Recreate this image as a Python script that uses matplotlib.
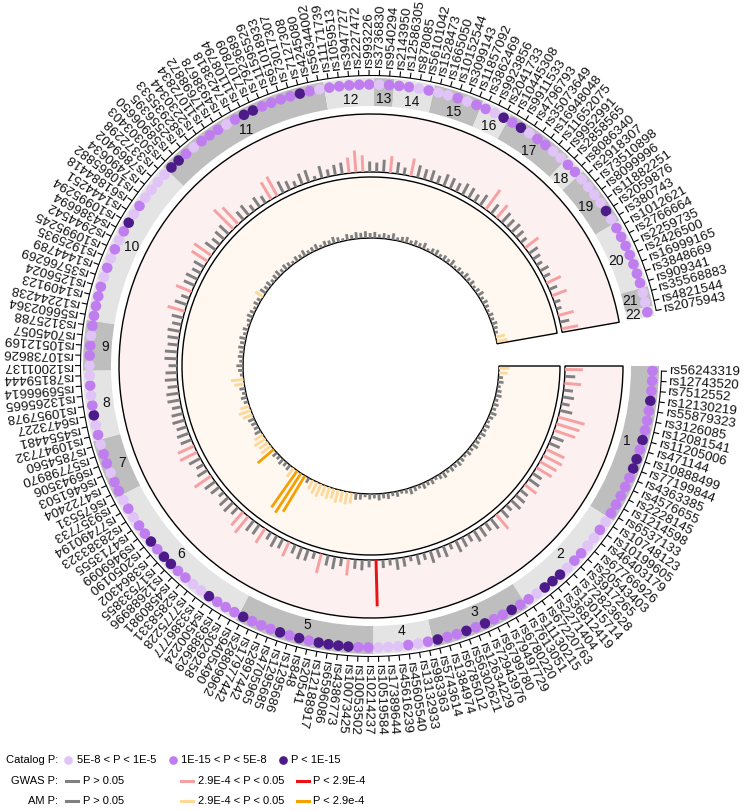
import numpy as np
import matplotlib
matplotlib.use("Agg")
import matplotlib.pyplot as plt
from matplotlib.lines import Line2D

plt.rcParams['font.family'] = ['Liberation Sans', 'DejaVu Sans']

# ---------------- data ----------------
chrom_names = [str(i) for i in range(1, 23)]
chrom_counts = [16, 12, 10, 6, 14, 17, 6, 7, 5, 17, 18, 5, 2, 4, 5, 3, 7, 2, 6, 7, 2, 1]

snp_labels = [
    # chr1
    "rs56243319", "rs12743520", "rs7512552", "rs12130219", "rs55879323", "rs3126085",
    "rs12081541", "rs11205006", "rs471144", "rs10888499", "rs77199844", "rs4363385",
    "rs4576655", "rs2228145", "rs1214598", "rs6537133",
    # chr2
    "rs10748123", "rs10199605", "rs46403179", "rs67766926", "rs20543403", "rs3917265",
    "rs72823628", "rs13015714", "rs36812419", "rs2271404", "rs67220763", "rs11130215",
    # chr3
    "rs7613051", "rs6780220", "rs79497729", "rs6799780", "rs72943976", "rs12634229",
    "rs56302621", "rs6785012", "rs1384974", "rs5743614",
    # chr4
    "rs983363", "rs13132933", "rs45605540", "rs45616239", "rs17389644", "rs10519584",
    # chr5
    "rs10214237", "rs10053502", "rs10073425", "rs4386773", "rs6596086", "rs12188917",
    "rs20541", "rs848", "rs1295686", "rs1295685", "rs4705965", "rs2897442",
    "rs17977442", "rs28809962",
    # chr6
    "rs9405490", "rs3029258", "rs9388629", "rs4500224", "rs3386777", "rs7775228",
    "rs2858331", "rs4580981", "rs12688996", "rs17533855", "rs3864302", "rs2050190",
    "rs9469099", "rs4713555", "rs28383323", "rs77490194", "rs9357733",
    # chr7
    "rs675531", "rs4722404", "rs6461503", "rs6943506", "rs57798970", "rs7854560",
    # chr8
    "rs10947732", "rs4554481", "rs6473227", "rs10957978", "rs13265665", "rs56966614",
    "rs78159444",
    # chr9
    "rs12001137", "rs10738626", "rs10512169", "rs7045057", "rs3125788",
    # chr10
    "rs56602364", "rs12244238", "rs1409123", "rs1256024", "rs35766269", "rs1444789",
    "rs1925935", "rs10995245", "rs2944542", "rs4386694", "rs10995294", "rs1444251",
    "rs61884418", "rs10865882", "rs7490634", "rs7869402", "rs3372298",
    # chr11
    "rs50303403", "rs58906650", "rs2556395", "rs82935533", "rs2230344", "rs11072834",
    "rs17698872", "rs4938678", "rs7423818", "rs11108794", "rs7107809", "rs7923689",
    "rs11595529", "rs61018933", "rs73017307", "rs7127308", "rs4245080", "rs56344002",
    # chr12
    "rs11171739", "rs1059513", "rs3947727", "rs2227472", "rs993226",
    # chr13
    "rs3736830", "rs9540294",
    # chr14
    "rs2143950", "rs12586305", "rs878085", "rs56101042",
    # chr15
    "rs1528473", "rs1665050", "rs10152544", "rs3099143", "rs11857092",
    # chr16
    "rs3862469", "rs9923856", "rs2041733",
    # chr17
    "rs10445308", "rs9911533", "rs4796793", "rs35073649", "rs16948048", "rs11652075",
    "rs9952991",
    # chr18
    "rs2858565", "rs8086340",
    # chr19
    "rs2918307", "rs73510898", "rs8099996", "rs11882251", "rs2059876", "rs380743",
    # chr20
    "rs1012621", "rs2766664", "rs2259735", "rs2426500", "rs16999165", "rs3848669",
    "rs909341",
    # chr21
    "rs35568883", "rs4821544",
    # chr22
    "rs2075943",
]

# catalog p-value class: 1 = 5E-8<P<1E-5, 2 = 1E-15<P<5E-8, 3 = P<1E-15
catalog_class = [
    2, 2, 2, 3, 2, 2, 2, 3, 2, 3, 3, 2, 2, 2, 2, 2,          # chr1
    1, 2, 1, 1, 2, 2, 1, 3, 3, 3, 1, 2,                      # chr2
    2, 3, 2, 2, 3, 2, 3, 2, 2, 3,                            # chr3
    2, 1, 2, 1, 1, 1,                                        # chr4
    2, 2, 3, 3, 3, 3, 2, 3, 2, 3, 2, 2, 2, 3,                # chr5
    2, 2, 2, 3, 1, 1, 2, 2, 3, 3, 2, 3, 2, 2, 1, 2, 1,       # chr6
    2, 2, 1, 2, 2, 1,                                        # chr7
    2, 1, 3, 2, 1, 2, 1,                                     # chr8
    1, 2, 2, 1, 2,                                           # chr9
    2, 2, 2, 2, 1, 2, 1, 2, 1, 2, 3, 1, 2, 1, 1, 1, 1,       # chr10
    3, 3, 2, 1, 2, 2, 2, 1, 2, 3, 3, 2, 2, 2, 2, 3, 2, 1,    # chr11
    2, 2, 2, 2, 2,                                           # chr12
    1, 2,                                                    # chr13
    2, 2, 1, 2,                                              # chr14
    1, 1, 2, 1, 2,                                           # chr15
    2, 1, 3,                                                 # chr16
    2, 3, 1, 2, 2, 1, 1,                                     # chr17
    2, 2,                                                    # chr18
    1, 1, 1, 1, 3, 1,                                        # chr19
    2, 2, 2, 2, 2, 2, 2,                                     # chr20
    1, 1,                                                    # chr21
    2,                                                       # chr22
]

# -log10(P) in the GWAS track (middle)
gwas_logp = [
    1.7, 1.0, 1.6, 0.9, 1.1, 0.8, 1.2, 2.6, 2.3, 2.1,
    1.2, 1.1, 1.9, 2.0, 1.8, 1.7, 1.0, 1.2, 1.4, 0.9,
    1.1, 1.2, 0.7, 1.0, 1.8, 1.2, 0.9, 1.1, 1.2, 0.8,
    1.0, 1.2, 0.6, 1.1, 0.9, 1.2, 0.7, 1.0, 0.5, 0.9,
    1.1, 0.6, 0.8, 4.4, 0.7, 1.0, 0.9, 1.6, 0.8, 1.2,
    1.0, 1.9, 0.7, 1.1, 1.2, 0.9, 1.5, 1.0, 1.2, 0.8,
    1.6, 1.1, 1.2, 2.0, 1.7, 0.9, 1.2, 1.1, 0.6, 1.0,
    1.2, 1.9, 1.1, 0.8, 1.2, 1.8, 1.7, 1.1, 1.2, 1.0,
    1.2, 1.1, 0.9, 1.2, 1.2, 1.0, 1.2, 1.1, 0.8, 1.2,
    1.2, 1.0, 1.1, 1.2, 0.9, 1.1, 1.7, 1.2, 0.8, 1.6,
    1.1, 1.2, 0.9, 1.1, 1.8, 2.0, 1.2, 0.9, 1.1, 1.2,
    2.6, 2.2, 1.0, 1.2, 0.7, 1.1, 0.8, 1.9, 2.1, 1.2,
    0.9, 0.6, 1.1, 1.2, 0.4, 1.2, 0.7, 1.0, 1.1, 1.5,
    2.1, 1.6, 1.0, 0.9, 1.2, 1.6, 1.1, 0.7, 1.7, 1.2,
    1.0, 1.1, 0.8, 1.2, 1.1, 0.9, 1.2, 1.1, 0.8, 1.2,
    2.3, 1.1, 1.6, 1.2, 1.0, 1.1, 0.9, 0.7, 1.6, 1.0,
    0.8, 0.6, 0.9, 0.7, 1.5, 0.8, 1.5, 0.6, 0.5, 1.5,
    0.9, 1.6,
]

# -log10(P) in the AM track (inner)
am_logp = [
    1.9, 1.6, 0.8, 1.0, 0.6, 0.9, 1.1, 0.7, 1.0, 0.8,
    1.2, 0.9, 0.6, 1.0, 0.8, 1.1, 0.7, 0.9, 1.2, 0.8,
    1.0, 0.6, 0.9, 1.1, 0.8, 1.0, 0.7, 1.2, 0.9, 0.6,
    1.0, 0.8, 1.1, 0.7, 0.9, 1.2, 0.8, 0.6, 1.0, 0.7,
    1.1, 0.9, 1.2, 0.8, 1.0, 0.6, 1.1, 1.2, 2.0, 2.3,
    2.1, 2.4, 1.9, 2.2, 2.0, 2.5, 2.3, 1.8, 1.0, 7.6,
    8.5, 8.1, 2.0, 1.1, 0.9, 1.2, 0.8, 1.0, 3.8, 2.2,
    2.0, 2.4, 1.8, 1.2, 0.9, 1.0, 1.2, 1.9, 2.3, 1.7,
    0.8, 1.1, 0.7, 1.0, 1.8, 2.3, 0.6, 0.9, 1.2, 0.7,
    1.0, 0.8, 1.1, 0.9, 1.2, 0.7, 1.0, 0.5, 0.8, 1.1,
    0.9, 0.6, 1.0, 0.8, 1.7, 1.2, 0.9, 1.1, 0.7, 1.0,
    1.2, 0.8, 1.1, 0.9, 0.6, 1.0, 0.8, 1.2, 0.7, 0.9,
    1.1, 0.6, 1.0, 0.8, 1.2, 0.9, 0.5, 1.1, 0.8, 1.2,
    1.0, 1.25, 0.9, 1.1, 0.7, 1.0, 0.8, 1.2, 0.6, 0.9,
    1.1, 0.7, 1.0, 0.8, 1.2, 0.5, 0.9, 1.1, 0.7, 1.0,
    0.8, 1.2, 0.6, 0.9, 0.7, 1.1, 0.8, 1.0, 0.6, 0.9,
    1.2, 0.7, 1.0, 0.8, 0.5, 0.9, 0.7, 1.0, 0.8, 0.6,
    1.7, 2.0,
]

# thresholds (-log10 of 0.05 and 2.9E-4)
thr_nominal = -np.log10(0.05)
thr_strict = -np.log10(2.9e-4)

# ---------------- styles ----------------
cat_colors = {1: '#E0C3F7', 2: '#BF7DF0', 3: '#4D1A89'}
band_colors = ['#BEBEBE', '#E4E4E4']
gwas_cols = ['#808080', '#F6A1A1', '#EE1111']
am_cols = ['#808080', '#FDD898', '#F5A000']

W, H, DPI = 747, 811, 100
CX, CY = 371, 445            # circle centre in pixels (from left, from bottom)
SPAN = 350.0                 # degrees used by the sectors (10 degree gap)

fig = plt.figure(figsize=(W / DPI, H / DPI), dpi=DPI)
fig.patch.set_facecolor('white')


def polar_ax(R):
    ax = fig.add_axes([(CX - R) / W, (CY - R) / H, 2 * R / W, 2 * R / H],
                      projection='polar')
    ax.set_theta_zero_location('E')
    ax.set_theta_direction(-1)
    ax.set_axis_off()
    ax.patch.set_alpha(0)
    return ax


N = len(snp_labels)
step = SPAN / N
theta = np.deg2rad((np.arange(N) + 0.5) * step)

# ---------------- outer ring: bands, dots, ticks, labels ----------------
ax = polar_ax(300)
counts = np.array(chrom_counts)
starts = np.concatenate([[0], np.cumsum(counts)[:-1]])
centres = np.deg2rad((starts + counts / 2) * step)
widths = np.deg2rad(counts * step)
ax.bar(centres, 28, width=widths, bottom=260, align='center',
       color=[band_colors[i % 2] for i in range(len(counts))], edgecolor='none')
for c, name in zip(centres, chrom_names):
    ax.text(c, 267, name, ha='center', va='center', fontsize=10, color='#111111')

ax.scatter(theta, np.full(N, 281.5), s=58, c=[cat_colors[c] for c in catalog_class],
           edgecolors='none', zorder=3, clip_on=False)

ax.vlines(theta, 290.5, 296, colors='black', lw=0.8)
arc = np.linspace(theta[0], theta[-1], 600)
ax.plot(arc, np.full_like(arc, 290.5), color='black', lw=0.8)

for t, lab in zip(theta, snp_labels):
    ax.text(t, 298, lab, rotation=-np.rad2deg(t), rotation_mode='anchor',
            ha='left', va='center', fontsize=9.6, color='#111111')
ax.set_ylim(0, 300)


def colour_for(v, cols):
    if v < thr_nominal:
        return cols[0]
    if v < thr_strict:
        return cols[1]
    return cols[2]


def track(R, r_in, vmax, values, cols, bg, lw):
    axt = polar_ax(R)
    axt.bar(np.deg2rad(SPAN / 2), vmax, width=np.deg2rad(SPAN), bottom=0,
            align='center', color=bg, edgecolor='black', lw=1.0, clip_on=False,
            zorder=1)
    axt.vlines(theta, 0, values, colors=[colour_for(v, cols) for v in values],
               lw=lw, zorder=2)
    axt.set_ylim(0, vmax)
    axt.set_rorigin(-vmax * r_in / (R - r_in))
    return axt


# middle track: GWAS
track(252, 194, 5.5, gwas_logp, gwas_cols, '#FDF0F0', 2.1)
# inner track: AM
track(189, 128, 11.0, am_logp, am_cols, '#FFF8F0', 2.0)

# ---------------- legend ----------------
def fx(px):
    return px / W


def fy(py):
    return (H - py) / H


LFS = 8.0
rows = [760, 781, 801]
fig.text(fx(58), fy(rows[0]), 'Catalog P:', ha='right', va='center', fontsize=LFS)
fig.text(fx(58), fy(rows[1]), 'GWAS P:', ha='right', va='center', fontsize=LFS)
fig.text(fx(58), fy(rows[2]), 'AM P:', ha='right', va='center', fontsize=LFS)

cat_texts = ['5E-8 < P < 1E-5', '1E-15 < P < 5E-8', 'P < 1E-15']
for (xd, xt), cls, txt in zip([(68, 77), (173, 181), (283, 291)], [1, 2, 3], cat_texts):
    fig.add_artist(Line2D([fx(xd)], [fy(rows[0])], marker='o', ms=5.2,
                          color=cat_colors[cls], linestyle='none',
                          transform=fig.transFigure))
    fig.text(fx(xt), fy(rows[0]), txt, ha='left', va='center', fontsize=LFS)

gwas_texts = ['P > 0.05', '2.9E-4 < P < 0.05', 'P < 2.9E-4']
am_texts = ['P > 0.05', '2.9E-4 < P < 0.05', 'P < 2.9e-4']
for row, cols, texts in [(rows[1], gwas_cols, gwas_texts), (rows[2], am_cols, am_texts)]:
    for (x0, x1, xt), col, txt in zip([(66, 78, 83), (181, 193, 198), (297, 309, 313)],
                                      cols, texts):
        fig.add_artist(Line2D([fx(x0), fx(x1)], [fy(row), fy(row)], color=col,
                              lw=2.2, transform=fig.transFigure))
        fig.text(fx(xt), fy(row), txt, ha='left', va='center', fontsize=LFS)

fig.savefig('out.png', dpi=DPI, facecolor='white')
